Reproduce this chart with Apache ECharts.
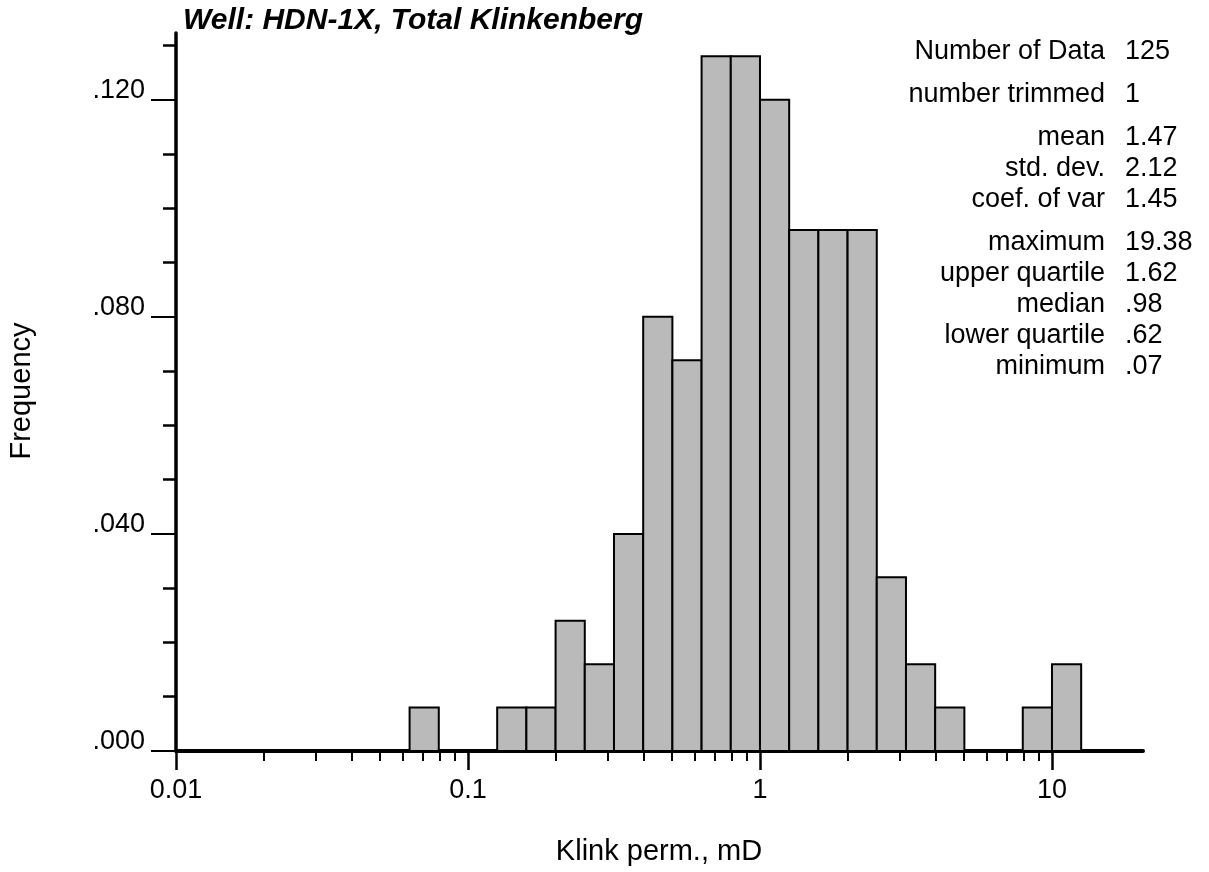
<!DOCTYPE html>
<html>
<head>
<meta charset="utf-8">
<script src="https://cdn.jsdelivr.net/npm/echarts@6/dist/echarts.min.js"></script>
<style>
html,body{margin:0;padding:0;background:#fff;}
#chart{width:1209px;height:872px;}
</style>
</head>
<body>
<div id="chart"></div>
<script>
// ---- data ----
const titleText = 'Well: HDN-1X, Total Klinkenberg';
const xAxisName = 'Klink perm., mD';
const yAxisName = 'Frequency';
// histogram bins: lower edge in log10(mD), bin width 0.1 decade
const binStarts = [-1.2, -1.1, -1.0, -0.9, -0.8, -0.7, -0.6, -0.5, -0.4, -0.3, -0.2, -0.1,
                   0.0, 0.1, 0.2, 0.3, 0.4, 0.5, 0.6, 0.7, 0.8, 0.9, 1.0];
const binWidth = 0.1;
const frequencies = [0.008, 0, 0, 0.008, 0.008, 0.024, 0.016, 0.040, 0.080, 0.072, 0.128, 0.128,
                     0.120, 0.096, 0.096, 0.096, 0.032, 0.016, 0.008, 0, 0, 0.008, 0.016];
const xTickValues = [0.01, 0.1, 1, 10];
const xTickLabels = ['0.01', '0.1', '1', '10'];
const xMinorMultipliers = [2, 3, 4, 5, 6, 7, 8, 9];
const xMin = 0.01, xMax = 20.5;
const yTickValues = [0, 0.04, 0.08, 0.12];
const yTickLabels = ['.000', '.040', '.080', '.120'];
const yMinorTicks = [0.01, 0.02, 0.03, 0.05, 0.06, 0.07, 0.09, 0.10, 0.11, 0.13];
const yMax = 0.1323;
const statGroups = [
  [['Number of Data', '125']],
  [['number trimmed', '1']],
  [['mean', '1.47'], ['std. dev.', '2.12'], ['coef. of var', '1.45']],
  [['maximum', '19.38'], ['upper quartile', '1.62'], ['median', '.98'], ['lower quartile', '.62'], ['minimum', '.07']]
];

// ---- build ----
const FONT = "'Liberation Sans', Arial, Helvetica, sans-serif";
const lg = v => Math.log10(v);
const xMajor = xTickValues.map(lg);
const xLast = xTickValues[xTickValues.length - 1];
const xMinor = [];
xTickValues.forEach(d => xMinorMultipliers.forEach(m => {
  const v = d * m;
  if (v < xLast) xMinor.push(lg(v));
}));
const xFmt = v => {
  let best = 0;
  xMajor.forEach((t, i) => { if (Math.abs(t - v) < Math.abs(xMajor[best] - v)) best = i; });
  return xTickLabels[best];
};
const yFmt = v => {
  let best = 0;
  yTickValues.forEach((t, i) => { if (Math.abs(t - v) < Math.abs(yTickValues[best] - v)) best = i; });
  return yTickLabels[best];
};

const graphics = [];
graphics.push({
  type: 'text', x: 183, y: 21,
  style: { text: titleText, font: 'italic bold 30px ' + FONT, fill: '#000', textAlign: 'left', textVerticalAlign: 'middle' }
});
graphics.push({
  type: 'text', x: 659, y: 852,
  style: { text: xAxisName, font: '29px ' + FONT, fill: '#000', textAlign: 'center', textVerticalAlign: 'middle' }
});
graphics.push({
  type: 'text', x: 22, y: 391, rotation: Math.PI / 2,
  style: { text: yAxisName, font: '29px ' + FONT, fill: '#000', textAlign: 'center', textVerticalAlign: 'middle' }
});
let yPos = 52;
statGroups.forEach((g, gi) => {
  if (gi > 0) yPos += 12;
  g.forEach(([lab, val]) => {
    graphics.push({ type: 'text', x: 1105, y: yPos,
      style: { text: lab, font: '27px ' + FONT, fill: '#000', textAlign: 'right', textVerticalAlign: 'middle' } });
    graphics.push({ type: 'text', x: 1125, y: yPos,
      style: { text: val, font: '27px ' + FONT, fill: '#000', textAlign: 'left', textVerticalAlign: 'middle' } });
    yPos += 31;
  });
});

const chart = echarts.init(document.getElementById('chart'), null, { renderer: 'canvas' });
const axisCommon = { splitLine: { show: false }, minorTick: { show: false } };
chart.setOption({
  animation: false,
  backgroundColor: '#fff',
  grid: { left: 176, right: 66, top: 33, bottom: 121, containLabel: false, outerBoundsMode: 'none' },
  xAxis: [
    Object.assign({
      type: 'value', min: lg(xMin), max: lg(xMax), position: 'bottom',
      axisLine: { show: true, onZero: false, lineStyle: { color: '#000', width: 4 } },
      axisTick: { show: true, customValues: xMajor, length: 19, lineStyle: { color: '#000', width: 2.5 } },
      axisLabel: { show: true, customValues: xMajor, formatter: xFmt, margin: 26, color: '#000', fontSize: 27, fontFamily: FONT }
    }, axisCommon),
    Object.assign({
      type: 'value', min: lg(xMin), max: lg(xMax), position: 'bottom',
      axisLine: { show: false, onZero: false },
      axisTick: { show: true, customValues: xMinor, length: 10, lineStyle: { color: '#000', width: 2 } },
      axisLabel: { show: false }
    }, axisCommon)
  ],
  yAxis: [
    Object.assign({
      type: 'value', min: 0, max: yMax, position: 'left',
      axisLine: { show: true, onZero: false, lineStyle: { color: '#000', width: 3.5 } },
      axisTick: { show: true, customValues: yTickValues, length: 25, lineStyle: { color: '#000', width: 2 } },
      axisLabel: { show: true, customValues: yTickValues, formatter: yFmt, margin: 31, color: '#000', fontSize: 27, fontFamily: FONT,
                   verticalAlign: 'bottom', lineHeight: 19 }
    }, axisCommon),
    Object.assign({
      type: 'value', min: 0, max: yMax, position: 'left',
      axisLine: { show: false, onZero: false },
      axisTick: { show: true, customValues: yMinorTicks, length: 13, lineStyle: { color: '#000', width: 2.5 } },
      axisLabel: { show: false }
    }, axisCommon)
  ],
  series: [{
    type: 'custom',
    xAxisIndex: 0, yAxisIndex: 0,
    clip: true,
    data: binStarts.map((b, i) => [b, frequencies[i]]),
    renderItem: function (params, api) {
      const lo = api.value(0), f = api.value(1);
      if (!f) return null;
      const p0 = api.coord([lo, f]);
      const p1 = api.coord([lo + binWidth, 0]);
      return {
        type: 'rect',
        shape: { x: p0[0], y: p0[1], width: p1[0] - p0[0], height: p1[1] - p0[1] },
        style: { fill: '#bababa', stroke: '#000', lineWidth: 2 }
      };
    },
    z: 1
  }],
  graphic: graphics
});
</script>
</body>
</html>
